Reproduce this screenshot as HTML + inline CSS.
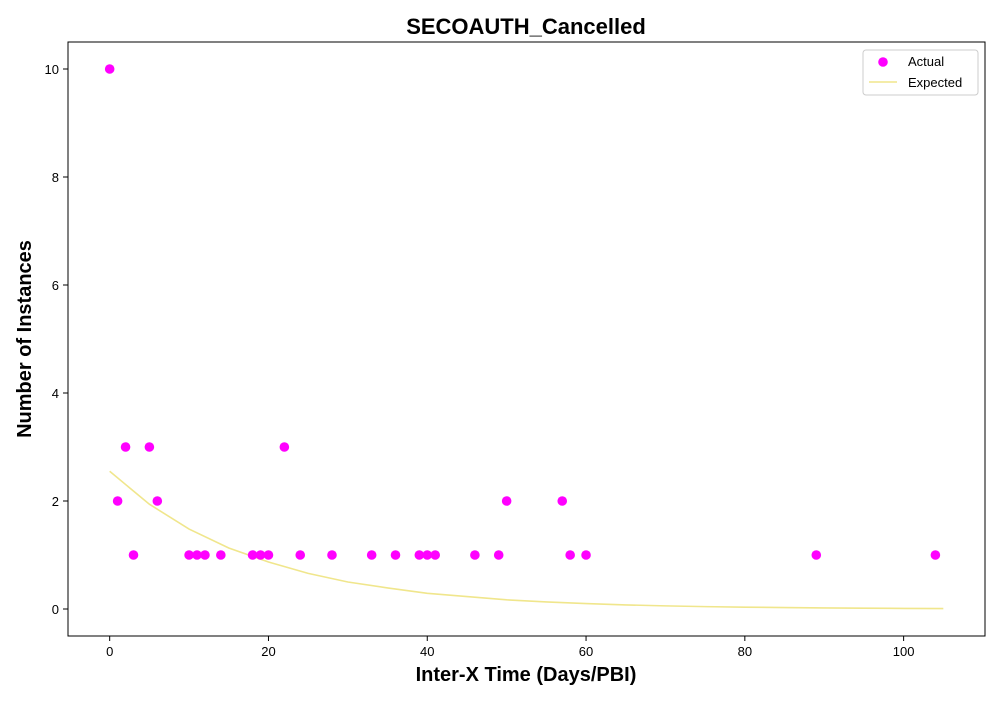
<!DOCTYPE html>
<html><head><meta charset="utf-8"><style>
body{margin:0;background:#fff;font-family:"Liberation Sans","DejaVu Sans",sans-serif}
</style></head><body>
<svg id="chart" width="1000" height="700" xmlns="http://www.w3.org/2000/svg"></svg>
<script>
const actualX=[0,1,2,3,5,6,10,11,12,14,18,19,20,22,24,28,33,36,39,40,41,46,49,50,57,58,60,89,104];
const actualY=[10,2,3,1,3,2,1,1,1,1,1,1,1,3,1,1,1,1,1,1,1,1,1,2,2,1,1,1,1];
const expectedX=[0,5,10,15,20,25,30,35,40,45,50,55,60,65,70,75,80,85,90,95,100,105];
const expectedY=[2.55,1.94,1.48,1.13,0.87,0.66,0.50,0.39,0.29,0.23,0.17,0.13,0.10,0.076,0.058,0.044,0.034,0.026,0.020,0.015,0.011,0.009];
const xTicks=[0,20,40,60,80,100];
const yTicks=[0,2,4,6,8,10];
const L=68,R=985,T=42,B=636,xmin=-5.25,xmax=110.25,ymin=-0.5,ymax=10.5;
const sx=v=>L+(v-xmin)/(xmax-xmin)*(R-L);
const sy=v=>B-(v-ymin)/(ymax-ymin)*(B-T);
const svg=document.getElementById('chart');const NS='http://www.w3.org/2000/svg';
function mk(tag,attrs,parent){const e=document.createElementNS(NS,tag);for(const k in attrs)e.setAttribute(k,attrs[k]);(parent||svg).appendChild(e);return e;}
let t=mk('text',{x:526,y:34,'text-anchor':'middle','font-size':22,'font-weight':'bold'});t.textContent='SECOAUTH_Cancelled';


let fr=mk('rect',{x:L,y:T,width:R-L,height:B-T,fill:'none',stroke:'#000','stroke-width':1});


xTicks.forEach(v=>{const x=sx(v);mk('line',{x1:x,x2:x,y1:B,y2:B+5,stroke:'#000'});
const tx=mk('text',{x:x,y:B+20,'text-anchor':'middle','font-size':13});tx.textContent=v;

});
yTicks.forEach(v=>{const y=sy(v);mk('line',{x1:L-5,x2:L,y1:y,y2:y,stroke:'#000'});
const tx=mk('text',{x:L-9,y:y+5,'text-anchor':'end','font-size':13});tx.textContent=v;

});
t=mk('text',{x:526,y:681,'text-anchor':'middle','font-size':20,'font-weight':'bold'});t.textContent='Inter-X Time (Days/PBI)';


t=mk('text',{x:31,y:339,'text-anchor':'middle','font-size':20,'font-weight':'bold',transform:'rotate(-90 31 339)'});t.textContent='Number of Instances';


const pl=mk('polyline',{points:expectedX.map((x,i)=>sx(x)+','+sy(expectedY[i])).join(' '),fill:'none',stroke:'#f0e68c','stroke-width':1.6});


actualX.forEach((x,i)=>{const c=mk('circle',{cx:sx(x),cy:sy(actualY[i]),r:4.8,fill:'#ff00ff'});

});
const lg=mk('g',{});


mk('rect',{x:863,y:50,width:115,height:45,rx:3,fill:'#fff',stroke:'#ccc'},lg);
mk('circle',{cx:883,cy:62,r:4.8,fill:'#ff00ff'},lg);
t=mk('text',{x:908,y:66,'font-size':13},lg);t.textContent='Actual';
mk('line',{x1:869,x2:897,y1:82,y2:82,stroke:'#f0e68c','stroke-width':1.6},lg);
t=mk('text',{x:908,y:87,'font-size':13},lg);t.textContent='Expected';
</script>
</body></html>
